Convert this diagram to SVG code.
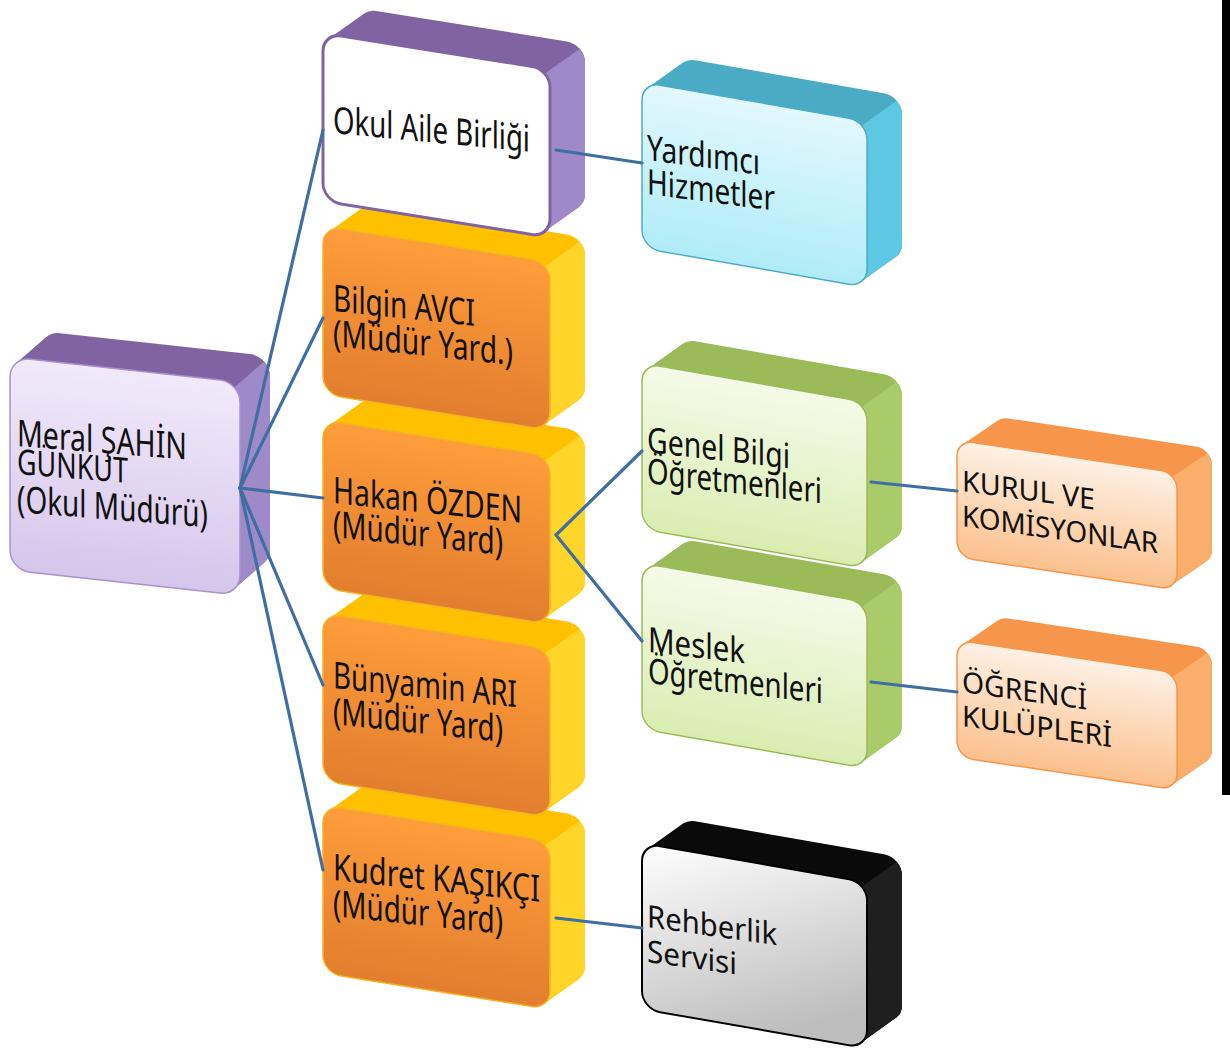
<svg xmlns="http://www.w3.org/2000/svg" xmlns:xlink="http://www.w3.org/1999/xlink" width="1230" height="1055" viewBox="0 0 1230 1055">
<style>
.t{font-family:"Noto Sans","Open Sans","DejaVu Sans",sans-serif;fill:#111;}
.f34{font-size:37px}.f32{font-size:35px}.f29{font-size:31px}.f27{font-size:29px}
.conn{fill:none;stroke:#3F6EA2;stroke-width:3.2;stroke-linecap:round}
</style>
<defs>
<linearGradient id="gMeral" x1="0" y1="0" x2="0" y2="1"><stop offset="0" stop-color="#F1EAFA"/><stop offset="1" stop-color="#D5C6EC"/></linearGradient>
<linearGradient id="gCyan" x1="0" y1="0" x2="0" y2="1"><stop offset="0" stop-color="#E2F8FC"/><stop offset="1" stop-color="#AFECF8"/></linearGradient>
<linearGradient id="gOrange" x1="0" y1="0" x2="0" y2="1"><stop offset="0" stop-color="#FF9C3A"/><stop offset="1" stop-color="#E27E2E"/></linearGradient>
<linearGradient id="gGreen" x1="0" y1="0" x2="0" y2="1"><stop offset="0" stop-color="#F5FAE8"/><stop offset="1" stop-color="#D9EDB2"/></linearGradient>
<linearGradient id="gPeach" x1="0" y1="0" x2="0" y2="1"><stop offset="0" stop-color="#FEF1E5"/><stop offset="1" stop-color="#FBC08C"/></linearGradient>
<linearGradient id="gGray" x1="0" y1="0" x2="0.6" y2="1"><stop offset="0" stop-color="#FFFFFF"/><stop offset="1" stop-color="#BEBEBE"/></linearGradient>
<path id="sweepA" d="M6.02,5.69 L36.02,-23.61 A20,20 0 0 1 50,-29.3 L240,-29.3 A20,20 0 0 1 260,-9.3 L260,163.7 A20,20 0 0 1 253.98,178.01 L223.98,207.31 A20,20 0 0 1 210,213 L20,213 A20,20 0 0 1 0,193 L0,20 A20,20 0 0 1 6.02,5.69 Z"/>
<path id="rightA" d="M224.14,5.86 L254.14,-23.44 A20,20 0 0 1 260,-9.3 L260,163.7 A20,20 0 0 1 253.98,178.01 L223.98,207.31 L230,193 L230,20 Z"/>
<rect id="frontA" x="0" y="0" width="230" height="213" rx="20"/>
<path id="sweepB" d="M6.15,4.45 L41.15,-26.15 A18,18 0 0 1 53,-30.6 L244,-30.6 A18,18 0 0 1 262,-12.6 L262,119.4 A18,18 0 0 1 255.85,132.95 L220.85,163.55 A18,18 0 0 1 209,168 L18,168 A18,18 0 0 1 0,150 L0,18 A18,18 0 0 1 6.15,4.45 Z"/>
<path id="rightB" d="M221.73,5.27 L256.73,-25.33 A18,18 0 0 1 262,-12.6 L262,119.4 A18,18 0 0 1 255.85,132.95 L220.85,163.55 L227,150 L227,18 Z"/>
<rect id="frontB" x="0" y="0" width="227" height="168" rx="18"/>
<path id="sweepC" d="M6.04,4.54 L41.04,-26.56 A18,18 0 0 1 53,-31.1 L242,-31.1 A18,18 0 0 1 260,-13.1 L260,116.9 A18,18 0 0 1 253.96,130.36 L218.96,161.46 A18,18 0 0 1 207,166 L18,166 A18,18 0 0 1 0,148 L0,18 A18,18 0 0 1 6.04,4.54 Z"/>
<path id="rightC" d="M219.73,5.27 L254.73,-25.83 A18,18 0 0 1 260,-13.1 L260,116.9 A18,18 0 0 1 253.96,130.36 L218.96,161.46 L225,148 L225,18 Z"/>
<rect id="frontC" x="0" y="0" width="225" height="166" rx="18"/>
<path id="sweepD" d="M5.74,3.73 L40.74,-25.52 A16,16 0 0 1 51,-29.25 L239,-29.25 A16,16 0 0 1 255,-13.25 L255,71.75 A16,16 0 0 1 249.26,84.02 L214.26,113.27 A16,16 0 0 1 204,117 L16,117 A16,16 0 0 1 0,101 L0,16 A16,16 0 0 1 5.74,3.73 Z"/>
<path id="rightD" d="M215.31,4.69 L250.31,-24.56 A16,16 0 0 1 255,-13.25 L255,71.75 A16,16 0 0 1 249.26,84.02 L214.26,113.27 L220,101 L220,16 Z"/>
<rect id="frontD" x="0" y="0" width="220" height="117" rx="16"/>
</defs>
<rect x="0" y="0" width="1230" height="1055" fill="#FFFFFF"/>
<rect x="1222" y="0" width="8" height="795" fill="#000000"/>

<g id="node-meral">
<g transform="translate(10,357) skewY(6.28)">
<use href="#sweepA" fill="#8064A2"/><use href="#rightA" fill="#9E8AC9"/>
<use href="#frontA" fill="url(#gMeral)" stroke="#A893CF" stroke-width="1.5"/>
</g>
<text class="t f34" transform="translate(17,446) skewY(4.57)" textLength="170" lengthAdjust="spacingAndGlyphs">Meral ŞAHİN</text>
<text class="t f32" transform="translate(17,474) skewY(4.57)" textLength="111" lengthAdjust="spacingAndGlyphs">GÜNKUT</text>
<text class="t f34" transform="translate(17,512) skewY(4.57)" textLength="191" lengthAdjust="spacingAndGlyphs">(Okul Müdürü)</text>
</g>

<g id="node-kudret">
<g transform="translate(323,805) skewY(9.09)">
<use href="#sweepB" fill="#FFC000"/><use href="#rightB" fill="#FFD529"/>
<use href="#frontB" fill="url(#gOrange)" stroke="#F5B324" stroke-width="1.5"/>
</g>
<text class="t f34" transform="translate(333,880) skewY(6)" textLength="207" lengthAdjust="spacingAndGlyphs">Kudret KAŞIKÇI</text>
<text class="t f34" transform="translate(333,916) skewY(6)" textLength="170" lengthAdjust="spacingAndGlyphs">(Müdür Yard)</text>
</g>

<g id="node-bunyamin">
<g transform="translate(323,613) skewY(9.09)">
<use href="#sweepB" fill="#FFC000"/><use href="#rightB" fill="#FFD529"/>
<use href="#frontB" fill="url(#gOrange)" stroke="#F5B324" stroke-width="1.5"/>
</g>
<text class="t f34" transform="translate(333,688) skewY(6)" textLength="184" lengthAdjust="spacingAndGlyphs">Bünyamin ARI</text>
<text class="t f34" transform="translate(333,724) skewY(6)" textLength="170" lengthAdjust="spacingAndGlyphs">(Müdür Yard)</text>
</g>

<g id="node-hakan">
<g transform="translate(323,420) skewY(9.09)">
<use href="#sweepB" fill="#FFC000"/><use href="#rightB" fill="#FFD529"/>
<use href="#frontB" fill="url(#gOrange)" stroke="#F5B324" stroke-width="1.5"/>
</g>
<text class="t f34" transform="translate(333,503) skewY(6)" textLength="189" lengthAdjust="spacingAndGlyphs">Hakan ÖZDEN</text>
<text class="t f34" transform="translate(333,537) skewY(6)" textLength="170" lengthAdjust="spacingAndGlyphs">(Müdür Yard)</text>
</g>

<g id="node-bilgin">
<g transform="translate(323,226) skewY(9.09)">
<use href="#sweepB" fill="#FFC000"/><use href="#rightB" fill="#FFD529"/>
<use href="#frontB" fill="url(#gOrange)" stroke="#F5B324" stroke-width="1.5"/>
</g>
<text class="t f34" transform="translate(333,311) skewY(6)" textLength="142" lengthAdjust="spacingAndGlyphs">Bilgin AVCI</text>
<text class="t f34" transform="translate(333,346) skewY(6)" textLength="180" lengthAdjust="spacingAndGlyphs">(Müdür Yard.)</text>
</g>

<g id="node-okul-aile">
<g transform="translate(323,33) skewY(9.09)">
<use href="#sweepB" fill="#8064A2"/><use href="#rightB" fill="#9E8AC9"/>
<use href="#frontB" fill="#FFFFFF" stroke="#8064A2" stroke-width="3"/>
</g>
<text class="t f34" transform="translate(333,133) skewY(5.43)" textLength="197" lengthAdjust="spacingAndGlyphs">Okul Aile Birliği</text>
</g>

<g id="node-rehberlik">
<g transform="translate(642,843) skewY(9.93)">
<use href="#sweepC" fill="#0A0A0A"/><use href="#rightC" fill="#1F1F1F"/>
<use href="#frontC" fill="url(#gGray)" stroke="#000000" stroke-width="2"/>
</g>
<text class="t f29" transform="translate(647,927) skewY(8)" textLength="130" lengthAdjust="spacingAndGlyphs">Rehberlik</text>
<text class="t f29" transform="translate(647,962) skewY(8)" textLength="90" lengthAdjust="spacingAndGlyphs">Servisi</text>
</g>

<g id="node-meslek">
<g transform="translate(642,563) skewY(9.93)">
<use href="#sweepC" fill="#9BBB59"/><use href="#rightC" fill="#AACB69"/>
<use href="#frontC" fill="url(#gGreen)" stroke="#9BBB59" stroke-width="1.5"/>
</g>
<text class="t f32" transform="translate(648,652) skewY(6.6)" textLength="97" lengthAdjust="spacingAndGlyphs">Meslek</text>
<text class="t f32" transform="translate(648,683) skewY(6.6)" textLength="175" lengthAdjust="spacingAndGlyphs">Öğretmenleri</text>
</g>

<g id="node-genel">
<g transform="translate(642,363) skewY(9.93)">
<use href="#sweepC" fill="#9BBB59"/><use href="#rightC" fill="#AACB69"/>
<use href="#frontC" fill="url(#gGreen)" stroke="#9BBB59" stroke-width="1.5"/>
</g>
<text class="t f32" transform="translate(647,452) skewY(6.6)" textLength="143" lengthAdjust="spacingAndGlyphs">Genel Bilgi</text>
<text class="t f32" transform="translate(647,483) skewY(6.6)" textLength="175" lengthAdjust="spacingAndGlyphs">Öğretmenleri</text>
</g>

<g id="node-yardimci">
<g transform="translate(642,82) skewY(9.93)">
<use href="#sweepC" fill="#4AABC5"/><use href="#rightC" fill="#5EC7E3"/>
<use href="#frontC" fill="url(#gCyan)" stroke="#4BACC6" stroke-width="1.5"/>
</g>
<text class="t f32" transform="translate(647,160) skewY(7.4)" textLength="113" lengthAdjust="spacingAndGlyphs">Yardımcı</text>
<text class="t f32" transform="translate(647,194) skewY(7.4)" textLength="128" lengthAdjust="spacingAndGlyphs">Hizmetler</text>
</g>

<g id="node-ogrenci">
<g transform="translate(957,640) skewY(8.53)">
<use href="#sweepD" fill="#F7964A"/><use href="#rightD" fill="#F9AE6C"/>
<use href="#frontD" fill="url(#gPeach)" stroke="#F7964A" stroke-width="1.5"/>
</g>
<text class="t f27" transform="translate(962,692) skewY(7.97)" textLength="125" lengthAdjust="spacingAndGlyphs">ÖĞRENCİ</text>
<text class="t f27" transform="translate(962,726) skewY(7.97)" textLength="150" lengthAdjust="spacingAndGlyphs">KULÜPLERİ</text>
</g>

<g id="node-kurul">
<g transform="translate(957,440) skewY(8.53)">
<use href="#sweepD" fill="#F7964A"/><use href="#rightD" fill="#F9AE6C"/>
<use href="#frontD" fill="url(#gPeach)" stroke="#F7964A" stroke-width="1.5"/>
</g>
<text class="t f27" transform="translate(962,491) skewY(7.97)" textLength="133" lengthAdjust="spacingAndGlyphs">KURUL VE</text>
<text class="t f27" transform="translate(962,526) skewY(7.97)" textLength="196" lengthAdjust="spacingAndGlyphs">KOMİSYONLAR</text>
</g>

<g id="connectors">
<line class="conn" x1="240" y1="488" x2="323" y2="130"/>
<line class="conn" x1="240" y1="488" x2="323" y2="318"/>
<line class="conn" x1="240" y1="488" x2="323" y2="498"/>
<line class="conn" x1="240" y1="488" x2="323" y2="685"/>
<line class="conn" x1="240" y1="488" x2="323" y2="870"/>
<line class="conn" x1="556" y1="150" x2="642" y2="163"/>
<polyline class="conn" points="642,451 556,535 642,641"/>
<line class="conn" x1="556" y1="918" x2="642" y2="928"/>
<line class="conn" x1="871" y1="482" x2="957" y2="491"/>
<line class="conn" x1="871" y1="682" x2="957" y2="692"/>
</g>
</svg>
